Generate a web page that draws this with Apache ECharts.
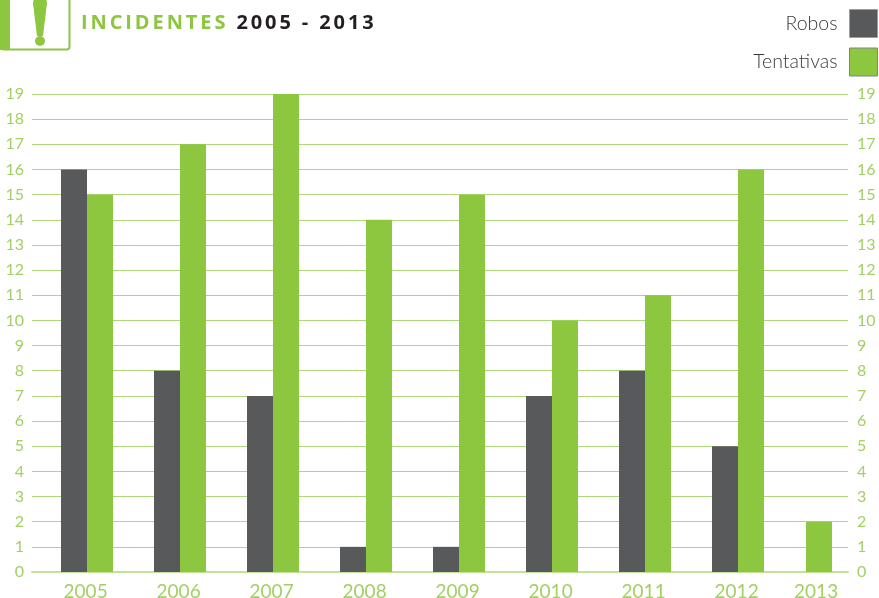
<!DOCTYPE html>
<html>
<head>
<meta charset="utf-8">
<style>
  html, body { margin: 0; padding: 0; background: #fff; }
  #chart { width: 879px; height: 598px; }
  .title { position: absolute; left: 81px; top: 8px; font: bold 20px "Open Sans", sans-serif; letter-spacing: 2.9px; color: #231f20; }
  .title span { color: #8dc63f; }
</style>
<script src="https://cdn.jsdelivr.net/npm/echarts@6/dist/echarts.min.js"></script>
</head>
<body>
<div id="chart"></div>
<div class="title"><span>INCIDENTES</span> 2005 - 2013</div>
<script>
const years = ['2005', '2006', '2007', '2008', '2009', '2010', '2011', '2012', '2013']
const robos = [16, 8, 7, 1, 1, 7, 8, 5, null]
const tentativas = [15, 17, 19, 14, 15, 10, 11, 16, 2]
const yTicks = 19

const green = '#8dc63f'
const gray = '#58595b'
const labelGreen = '#a3d063'

// the last year sits closer to 2012 in the original, so x is a slot number, not a category
const slot = i => (i < 8 ? i : 7.731)
const labelSlot = i => (i < 8 ? i - 0.015 : 7.84)
const pairs = arr => arr.map((v, i) => [slot(i), v])

const yAxisCommon = {
  type: 'value',
  min: 0,
  max: yTicks,
  interval: 1,
  axisLine: { show: false },
  axisTick: { show: false }
}

let chart = echarts.init(document.getElementById('chart'))
chart.setOption({
  animation: false,
  backgroundColor: '#fff',
  textStyle: { fontFamily: 'Lato' },
  grid: { left: 32, right: 31, top: 94, bottom: 26, outerBoundsMode: 'none' },
  legend: {
    orient: 'vertical',
    right: 1,
    top: 9,
    padding: 0,
    align: 'right',
    itemWidth: 28,
    itemHeight: 28,
    itemGap: 9.5,
    selectedMode: false,
    textStyle: { fontSize: 19.5, fontWeight: 300, color: '#3a3a3c', fontFamily: 'Lato', padding: [0, 7, 0, 0] },
    data: [
      { name: 'Robos', icon: 'rect', itemStyle: { color: gray, borderColor: '#8fb05f', borderWidth: 1 } },
      { name: 'Tentativas', icon: 'rect', itemStyle: { color: green, borderColor: '#808285', borderWidth: 1 } }
    ]
  },
  xAxis: {
    type: 'value',
    min: -55 / 93,
    max: 761 / 93,
    splitLine: { show: false },
    axisTick: { show: false },
    axisLine: { show: true, onZero: true, lineStyle: { color: '#c2e29a', width: 2 } },
    axisLabel: {
      customValues: years.map((y, i) => labelSlot(i)),
      formatter: v => years[years.findIndex((y, i) => labelSlot(i) === v)],
      color: labelGreen,
      fontSize: 19,
      margin: 10
    }
  },
  yAxis: [
    Object.assign({}, yAxisCommon, {
      splitLine: { show: true, lineStyle: { color: '#aed77a', width: 1 } },
      axisLabel: { color: labelGreen, fontSize: 16, margin: 8, align: 'right' }
    }),
    Object.assign({}, yAxisCommon, {
      position: 'right',
      splitLine: { show: false },
      axisLabel: { color: labelGreen, fontSize: 16, margin: 9, align: 'left' }
    })
  ],
  graphic: [
    { type: 'rect', shape: { x: 1, y: -6, width: 68.5, height: 55.5, r: 3 }, style: { fill: '#fff', stroke: green, lineWidth: 2 } },
    { type: 'rect', shape: { x: 0, y: 0, width: 10, height: 50 }, style: { fill: green } },
    { type: 'polygon', shape: { points: [[33, 3], [47, 3], [43, 36], [37, 36]] }, style: { fill: green } },
    { type: 'circle', shape: { cx: 40, cy: 3, r: 7 }, style: { fill: green } },
    { type: 'circle', shape: { cx: 40, cy: 41, r: 5 }, style: { fill: green } }
  ],
  series: [
    { name: 'Robos', type: 'bar', data: pairs(robos), barWidth: 26, barGap: 0, itemStyle: { color: gray } },
    { name: 'Tentativas', type: 'bar', data: pairs(tentativas), barWidth: 26, barGap: 0, itemStyle: { color: green } }
  ]
})
</script>
</body>
</html>
